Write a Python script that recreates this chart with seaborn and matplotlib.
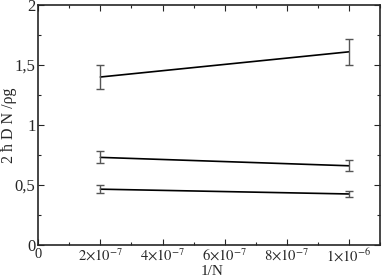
import seaborn as sns
import matplotlib.pyplot as plt
import matplotlib.ticker as mticker
import pandas as pd

# 1/N positions
inv_n = [2e-7, 1e-6]
# 2 hbar D N / rho g for three series, with error half-widths
s1 = [1.40, 1.61]
e1 = [0.10, 0.11]
s2 = [0.73, 0.66]
e2 = [0.05, 0.045]
s3 = [0.465, 0.425]
e3 = [0.033, 0.028]

x_ticks = [0, 2e-7, 4e-7, 6e-7, 8e-7, 1e-6]
x_labels = ['0', r'$2{\times}10^{-7}$', r'$4{\times}10^{-7}$', r'$6{\times}10^{-7}$',
            r'$8{\times}10^{-7}$', r'$1{\times}10^{-6}$']
y_ticks = [0, 0.5, 1, 1.5, 2]
y_labels = ['0', '0,5', '1', '1,5', '2']

sns.set_style("ticks")
plt.rcParams['font.family'] = ['Liberation Serif', 'DejaVu Serif']
plt.rcParams['mathtext.fontset'] = 'stix'

df = pd.DataFrame({
    'x': inv_n * 3,
    'y': s1 + s2 + s3,
    'err': e1 + e2 + e3,
    'serie': ['a'] * 2 + ['b'] * 2 + ['c'] * 2,
})

fig, ax = plt.subplots(figsize=(3.82, 2.79), dpi=100)
fig.subplots_adjust(left=0.1, right=0.995, top=0.982, bottom=0.122)

sns.lineplot(data=df, x='x', y='y', units='serie', estimator=None,
             color='black', lw=1.2, ax=ax, legend=False)
ax.errorbar(df['x'], df['y'], yerr=df['err'], fmt='none', ecolor='#555555',
            elinewidth=1, capsize=3, capthick=1)

ax.set_xlim(0, 1.1e-6)
ax.set_ylim(0, 2)
ax.set_xticks(x_ticks)
ax.set_xticklabels(x_labels, fontsize=10.5)
ax.set_yticks(y_ticks)
ax.set_yticklabels(y_labels, fontsize=12)
ax.xaxis.set_minor_locator(mticker.MultipleLocator(1e-7))
ax.yaxis.set_minor_locator(mticker.MultipleLocator(0.25))
ax.tick_params(which='both', direction='in', top=True, right=True, width=0.8)
ax.tick_params(which='major', length=4, pad=2)
ax.tick_params(which='minor', length=2)
for sp in ax.spines.values():
    sp.set_linewidth(1.2)

ax.set_xlabel('1/N', fontsize=11)
ax.xaxis.set_label_coords(0.51, -0.085)
ax.set_ylabel('2 ħ D N /ρg', fontsize=11.5)
ax.yaxis.set_label_coords(-0.062, 0.5)

plt.savefig('out.png', dpi=100)
